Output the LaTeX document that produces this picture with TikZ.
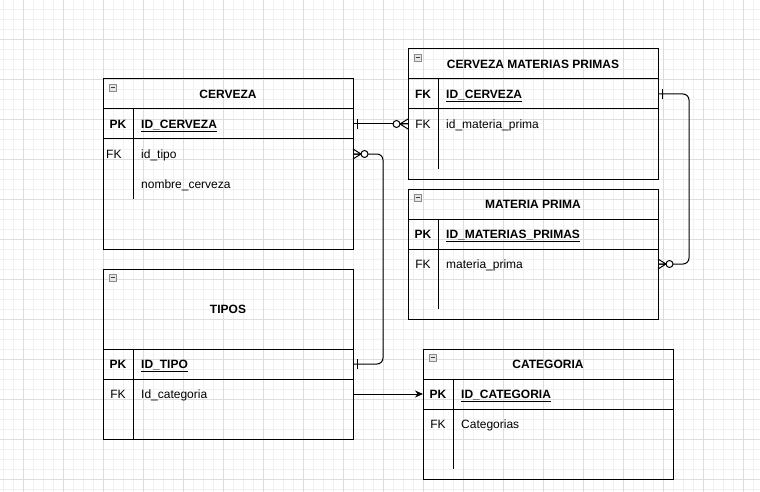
\documentclass[tikz,border=0pt]{standalone}
\usepackage{fontspec}
\setmainfont{Liberation Sans}
\usetikzlibrary{arrows.meta}
\definecolor{gridminor}{HTML}{F1F1F1}
\definecolor{gridmajor}{HTML}{DDDDDD}
\definecolor{iconfill}{HTML}{E6E6E6}
\definecolor{iconline}{HTML}{8C8C8C}
\begin{document}
\begin{tikzpicture}[x=1pt,y=-1pt,
  font=\fontsize{12}{14}\selectfont,
  part/.style={draw, line width=1pt, anchor=north west, minimum width=250pt, inner sep=0pt, outer sep=0pt},
  rowarea/.style={anchor=north west, minimum width=250pt, minimum height=30pt, inner sep=0pt, outer sep=0pt},
  title/.style={anchor=base, inner sep=0pt, font=\fontsize{12}{14}\selectfont\bfseries},
  keyb/.style={anchor=base, inner sep=0pt, font=\fontsize{12}{14}\selectfont\bfseries},
  keyr/.style={anchor=base, inner sep=0pt},
  fldb/.style={anchor=base west, inner sep=0pt, font=\fontsize{12}{14}\selectfont\bfseries},
  fld/.style={anchor=base west, inner sep=0pt},
  icon/.style={draw=iconline, fill=iconfill, line width=0.6pt, minimum size=7pt, inner sep=0pt,
    path picture={\draw[line width=0.8pt, black!75] ([xshift=1.5pt]path picture bounding box.west) -- ([xshift=-1.5pt]path picture bounding box.east);}},
  conn/.style={line width=1pt},
  ercrow/.pic={\draw[line width=1pt] (0,-5) -- (8,0) -- (0,5) (0,0) -- (8,0);
               \draw[line width=1pt, fill=white] (11.5,0) circle[radius=3.5pt];},
  erbar/.pic={\draw[line width=1pt] (0,-5) -- (0,5);}
]
\useasboundingbox (0,0) rectangle (760,492);
% grid
\foreach \x in {3,13,...,753} \draw[gridminor, line width=0.8pt] (\x,0) -- (\x,492);
\foreach \y in {9,19,...,489} \draw[gridminor, line width=0.8pt] (0,\y) -- (760,\y);
\foreach \x in {23,63,...,743} \draw[gridmajor, line width=0.8pt] (\x,0) -- (\x,492);
\foreach \y in {39,79,...,479} \draw[gridmajor, line width=0.8pt] (0,\y) -- (760,\y);

% ---------- CERVEZA ----------
\node[part, minimum height=30pt] (cz-h) at (103,79) {};
\node[part, minimum height=30pt] (cz-pk) at (103,109) {};
\node[part, minimum height=110pt] (cz-b) at (103,139) {};
\node[rowarea] (cz-f1) at (103,139) {};
\node[rowarea] (cz-f2) at (103,169) {};
\node[icon] (cz-i) at (112.5,87.5) {};
\draw[line width=1pt] (133,109) -- (133,199);
\node[title] (cz-t) at (228,98.5) {CERVEZA};
\node[keyb] (cz-k1) at (118,128.5) {PK};
\node[fldb] (cz-n1) at (141,128.5) {\underline{ID\_CERVEZA}};
\node[fld] (cz-k2) at (106,158.5) {FK};
\node[fld] (cz-n2) at (141,158.5) {id\_tipo};
\node[fld] (cz-n3) at (141,188.5) {nombre\_cerveza};

% ---------- CERVEZA MATERIAS PRIMAS ----------
\node[part, minimum height=30pt] (cmp-h) at (408,49) {};
\node[part, minimum height=30pt] (cmp-pk) at (408,79) {};
\node[part, minimum height=70pt] (cmp-b) at (408,109) {};
\node[rowarea] (cmp-f1) at (408,109) {};
\node[icon] (cmp-i) at (417.5,57.5) {};
\draw[line width=1pt] (438,79) -- (438,169);
\node[title] (cmp-t) at (533,68.5) {CERVEZA MATERIAS PRIMAS};
\node[keyb] (cmp-k1) at (423,98.5) {FK};
\node[fldb] (cmp-n1) at (446,98.5) {\underline{ID\_CERVEZA}};
\node[keyr] (cmp-k2) at (423,128.5) {FK};
\node[fld] (cmp-n2) at (446,128.5) {id\_materia\_prima};

% ---------- MATERIA PRIMA ----------
\node[part, minimum height=30pt] (mp-h) at (408,189) {};
\node[part, minimum height=30pt] (mp-pk) at (408,219) {};
\node[part, minimum height=70pt] (mp-b) at (408,249) {};
\node[rowarea] (mp-f1) at (408,249) {};
\node[icon] (mp-i) at (417.5,197.5) {};
\draw[line width=1pt] (438,219) -- (438,309);
\node[title] (mp-t) at (533,208.5) {MATERIA PRIMA};
\node[keyb] (mp-k1) at (423,238.5) {PK};
\node[fldb] (mp-n1) at (446,238.5) {\underline{ID\_MATERIAS\_PRIMAS}};
\node[keyr] (mp-k2) at (423,268.5) {FK};
\node[fld] (mp-n2) at (446,268.5) {materia\_prima};

% ---------- TIPOS ----------
\node[part, minimum height=80pt] (tp-h) at (103,269) {};
\node[part, minimum height=30pt] (tp-pk) at (103,349) {};
\node[part, minimum height=60pt] (tp-b) at (103,379) {};
\node[rowarea] (tp-f1) at (103,379) {};
\node[icon] (tp-i) at (112.5,277.5) {};
\draw[line width=1pt] (133,349) -- (133,439);
\node[title] (tp-t) at (228,313.5) {TIPOS};
\node[keyb] (tp-k1) at (118,368.5) {PK};
\node[fldb] (tp-n1) at (141,368.5) {\underline{ID\_TIPO}};
\node[keyr] (tp-k2) at (118,398.5) {FK};
\node[fld] (tp-n2) at (141,398.5) {Id\_categoria};

% ---------- CATEGORIA ----------
\node[part, minimum height=30pt] (cat-h) at (423,349) {};
\node[part, minimum height=30pt] (cat-pk) at (423,379) {};
\node[part, minimum height=70pt] (cat-b) at (423,409) {};
\node[rowarea] (cat-f1) at (423,409) {};
\node[icon] (cat-i) at (432.5,357.5) {};
\draw[line width=1pt] (453,379) -- (453,469);
\node[title] (cat-t) at (548,368.5) {CATEGORIA};
\node[keyb] (cat-k1) at (438,398.5) {PK};
\node[fldb] (cat-n1) at (461,398.5) {\underline{ID\_CATEGORIA}};
\node[keyr] (cat-k2) at (438,428.5) {FK};
\node[fld] (cat-n2) at (461,428.5) {Categorias};

% ---------- connectors ----------
% CERVEZA.ID_CERVEZA -> CERVEZA MATERIAS PRIMAS.id_materia_prima
\draw[conn] (cz-pk.east) -- (cmp-f1.west);
\pic at ([xshift=4pt]cz-pk.east) {erbar};
\pic[rotate=180] at (cmp-f1.west) {ercrow};

% CERVEZA.id_tipo -> TIPOS.ID_TIPO
\draw[conn, rounded corners=6pt] (cz-f1.east) -- ([xshift=30pt]cz-f1.east) |- (tp-pk.east);
\pic at (cz-f1.east) {ercrow};
\pic at ([xshift=4pt]tp-pk.east) {erbar};

% CERVEZA MATERIAS PRIMAS.ID_CERVEZA -> MATERIA PRIMA.materia_prima
\draw[conn, rounded corners=6pt] (cmp-pk.east) -- ([xshift=31pt]cmp-pk.east) |- (mp-f1.east);
\pic at ([xshift=4pt]cmp-pk.east) {erbar};
\pic at (mp-f1.east) {ercrow};

% TIPOS.Id_categoria -> CATEGORIA.ID_CATEGORIA
\draw[conn, -{Stealth[length=8pt,width=7pt]}] (tp-f1.east) -- (cat-pk.west);
\end{tikzpicture}
\end{document}
